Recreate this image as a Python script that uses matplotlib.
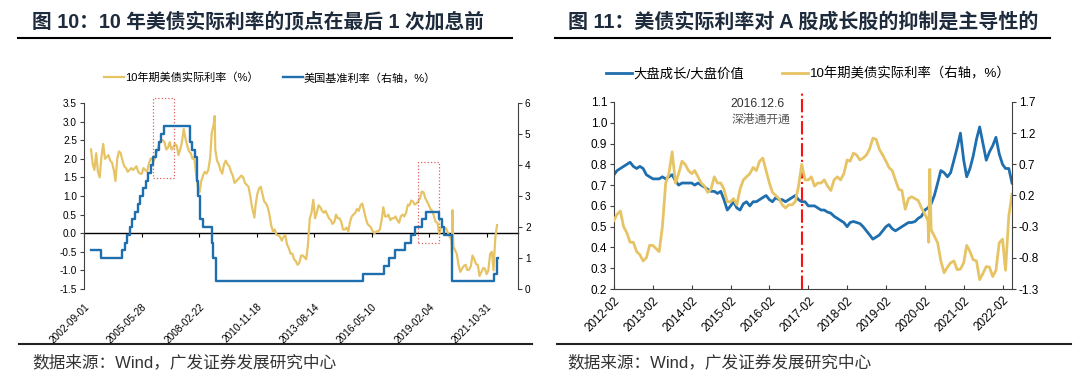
import numpy as np
import pandas as pd
import matplotlib
matplotlib.use('Agg')
import matplotlib.pyplot as plt
import matplotlib.dates as mdates
from matplotlib.patches import Rectangle
from matplotlib.lines import Line2D

plt.rcParams['font.family'] = ['Liberation Sans', 'Noto Sans CJK SC', 'DejaVu Sans']
plt.rcParams['axes.unicode_minus'] = False

YELLOW = '#E6C466'
BLUE = '#1F6EAD'
AXC = '#404040'

# 10年期美债实际利率, monthly 2003-01 .. 2022-05
real_rate = [
    2.25, 1.85, 1.70, 2.15, 1.65, 1.50, 2.05, 2.40, 2.00, 2.05, 2.10, 1.95,
    1.90, 1.70, 1.40, 2.00, 2.20, 2.15, 1.95, 1.80, 1.75, 1.65, 1.70, 1.75,
    1.70, 1.75, 1.80, 1.65, 1.60, 1.60, 1.75, 1.70, 1.65, 1.85, 2.00, 2.00,
    1.95, 2.10, 2.25, 2.40, 2.50, 2.50, 2.45, 2.25, 2.30, 2.45, 2.25, 2.30,
    2.40, 2.35, 2.10, 2.25, 2.45, 2.80, 2.55, 2.35, 2.20, 2.15, 2.00, 2.05,
    1.60, 1.25, 1.10, 1.40, 1.55, 1.65, 1.60, 1.70, 2.00, 2.70, 2.90, 2.25,
    1.95, 1.85, 1.70, 1.60, 1.85, 1.95, 1.85, 1.80, 1.65, 1.55, 1.35, 1.40,
    1.45, 1.50, 1.55, 1.50, 1.35, 1.30, 1.25, 1.00, 0.70, 0.50, 0.75, 1.05,
    1.20, 1.25, 1.05, 0.85, 0.80, 0.70, 0.50, 0.20, 0.05, 0.10, -0.05, -0.05,
    -0.10, -0.20, -0.10, -0.05, -0.30, -0.40, -0.55, -0.55, -0.70, -0.75, -0.85, -0.80,
    -0.60, -0.60, -0.65, -0.70, -0.30, 0.40, 0.55, 0.90, 0.40, 0.55, 0.75, 0.70,
    0.60, 0.55, 0.60, 0.50, 0.40, 0.35, 0.25, 0.30, 0.50, 0.40, 0.40, 0.30,
    0.10, 0.10, 0.15, 0.05, 0.30, 0.45, 0.50, 0.55, 0.65, 0.60, 0.75, 0.80,
    0.60, 0.40, 0.25, 0.20, 0.15, 0.05, 0.00, 0.05, 0.05, 0.10, 0.35, 0.70,
    0.45, 0.45, 0.50, 0.35, 0.40, 0.40, 0.45, 0.35, 0.28, 0.45, 0.50, 0.45,
    0.55, 0.77, 0.75, 0.88, 0.85, 0.77, 0.80, 0.85, 0.95, 1.12, 1.10, 0.94,
    0.85, 0.75, 0.65, 0.60, 0.45, 0.30, 0.28, -0.02, 0.15, 0.18, 0.15, 0.12,
    0.00, -0.10, -0.20, -0.35, -0.45, -0.56, -0.85, -1.04, -0.95, -0.88, -0.85, -0.99,
    -0.98, -0.88, -0.60, -0.70, -0.83, -0.85, -1.15, -1.05, -0.94, -0.95, -1.10, -1.00,
    -0.56, -0.50, -1.00, -0.13, 0.22,
]
# short daily spikes the monthly points miss
spike_dates = ['2008-11-20', '2010-10-12', '2020-03-09', '2020-03-19']
spike_values = [3.15, 0.42, -0.55, 0.62]

# 美国基准利率 (upper bound), change dates
fed_dates = ['2003-01-02', '2003-06-25', '2004-06-30', '2004-08-10', '2004-09-21',
             '2004-11-10', '2004-12-14', '2005-02-02', '2005-03-22', '2005-05-03',
             '2005-06-30', '2005-08-09', '2005-09-20', '2005-11-01', '2005-12-13',
             '2006-01-31', '2006-03-28', '2006-05-10', '2006-06-29', '2007-09-18',
             '2007-10-31', '2007-12-11', '2008-01-22', '2008-01-30', '2008-03-18',
             '2008-04-30', '2008-10-08', '2008-10-29', '2008-12-16', '2015-12-16',
             '2016-12-14', '2017-03-15', '2017-06-14', '2017-12-13', '2018-03-21',
             '2018-06-13', '2018-09-26', '2018-12-19', '2019-08-01', '2019-09-18',
             '2019-10-30', '2020-03-03', '2020-03-16', '2022-03-16', '2022-05-04',
             '2022-05-15']
fed_rates = [1.25, 1.00, 1.25, 1.50, 1.75, 2.00, 2.25, 2.50, 2.75, 3.00,
             3.25, 3.50, 3.75, 4.00, 4.25, 4.50, 4.75, 5.00, 5.25, 4.75,
             4.50, 4.25, 3.50, 3.00, 2.25, 2.00, 1.50, 1.00, 0.25, 0.50,
             0.75, 1.00, 1.25, 1.50, 1.75, 2.00, 2.25, 2.50, 2.25, 2.00,
             1.75, 1.25, 0.25, 0.50, 1.00, 1.00]

# 大盘成长/大盘价值, monthly 2012-02 .. 2022-05
growth_value = [
    0.75, 0.77, 0.78, 0.79, 0.80, 0.81, 0.79, 0.78, 0.79, 0.78, 0.75,
    0.74, 0.73, 0.73, 0.73, 0.74, 0.73, 0.74, 0.75, 0.72, 0.70, 0.71, 0.71,
    0.71, 0.71, 0.70, 0.71, 0.70, 0.69, 0.68, 0.67, 0.67, 0.66, 0.67, 0.63,
    0.58, 0.60, 0.62, 0.59, 0.58, 0.61, 0.62, 0.60, 0.62, 0.62, 0.63, 0.64,
    0.65, 0.63, 0.62, 0.64, 0.63, 0.63, 0.62, 0.63, 0.64, 0.65, 0.63, 0.62,
    0.62, 0.60, 0.60, 0.60, 0.59, 0.58, 0.58, 0.57, 0.565, 0.55, 0.54, 0.53,
    0.52, 0.50, 0.52, 0.525, 0.52, 0.515, 0.50, 0.48, 0.46, 0.44, 0.45, 0.46,
    0.48, 0.50, 0.51, 0.49, 0.48, 0.49, 0.50, 0.51, 0.52, 0.52, 0.525, 0.54,
    0.55, 0.58, 0.59, 0.61, 0.65, 0.71, 0.77, 0.76, 0.74, 0.76, 0.82, 0.88,
    0.95, 0.82, 0.74, 0.78, 0.84, 0.92, 0.98, 0.90, 0.82, 0.86, 0.89, 0.93,
    0.85, 0.80, 0.78, 0.78, 0.71,
]

left_ticks = ['2002-09-01', '2005-05-28', '2008-02-22', '2010-11-18',
              '2013-08-14', '2016-05-10', '2019-02-04', '2021-10-31']
right_ticks = ['2012-02', '2013-02', '2014-02', '2015-02', '2016-02', '2017-02',
               '2018-02', '2019-02', '2020-02', '2021-02', '2022-02']

# dotted highlight boxes on 图10: (start, end, low, high)
boxes = [('2005-12-14', '2006-12-14', 1.48, 3.63),
         ('2018-07-29', '2019-07-29', -0.27, 1.91)]
event_date = '2016-12-06'

rr = pd.Series(real_rate, index=pd.date_range('2003-01-01', periods=len(real_rate), freq='MS'))
rr = pd.concat([rr, pd.Series(spike_values, index=pd.to_datetime(spike_dates))]).sort_index()
gv = pd.Series(growth_value, index=pd.date_range('2012-02-01', periods=len(growth_value), freq='MS'))
rr_right = rr['2012-02-01':'2022-05-01']

fig = plt.figure(figsize=(10.8, 3.82), dpi=100)

TITLE_C = '#1E2B3C'
fig.text(32 / 1080, 1 - 22 / 382, '图 10：10 年美债实际利率的顶点在最后 1 次加息前',
         fontsize=14.2, fontweight='bold', color=TITLE_C, va='center', ha='left')
fig.text(568 / 1080, 1 - 22 / 382, '图 11：美债实际利率对 A 股成长股的抑制是主导性的',
         fontsize=14.4, fontweight='bold', color=TITLE_C, va='center', ha='left')
for x0, x1 in [(18, 512), (555, 1050)]:
    fig.add_artist(Line2D([x0 / 1080, x1 / 1080], [1 - 38 / 382] * 2, color='black', lw=1.5))
for x0, x1 in [(19, 532), (557, 1071)]:
    fig.add_artist(Line2D([x0 / 1080, x1 / 1080], [1 - 344 / 382] * 2, color='#222222', lw=1.5))
for x0 in [32, 567]:
    fig.text(x0 / 1080, 1 - 362 / 382, '数据来源：Wind，广发证券发展研究中心',
             fontsize=12, color='#333333', va='center', ha='left')

# ---------- 图10 ----------
ax1 = fig.add_axes([84 / 1080, 1 - 289 / 382, (518 - 84) / 1080, (289 - 103) / 382])
ax1.plot(rr.index, rr.values, color=YELLOW, lw=1.6, label='10年期美债实际利率（%）')
ax1.set_ylim(-1.5, 3.5)
ax1.set_yticks(np.arange(-1.5, 3.51, 0.5))
ax1.yaxis.set_major_formatter(plt.FormatStrFormatter('%.1f'))
ax1.set_xlim(pd.Timestamp('2002-09-01'), pd.Timestamp('2023-05-01'))
tick_pos = pd.to_datetime(left_ticks)
ax1.set_xticks(tick_pos)
ax1.set_xticklabels(left_ticks, rotation=45, ha='right', rotation_mode='anchor')
ax1.tick_params(axis='x', length=0, pad=9, labelsize=7.2)
ax1.tick_params(axis='y', length=3, width=0.8, labelsize=7.2, color=AXC, pad=2)
for s in ['top', 'right', 'bottom']:
    ax1.spines[s].set_visible(False)
ax1.spines['left'].set_color(AXC)

zero_axis = ax1.secondary_xaxis((0 + 1.5) / 5.0)
zero_axis.set_xticks(tick_pos)
zero_axis.tick_params(axis='x', labelbottom=False, length=3, width=0.8, color='black')
zero_axis.spines['bottom'].set_color('black')
zero_axis.spines['bottom'].set_linewidth(1.0)

for x0, x1, lo, hi in boxes:
    d0 = mdates.date2num(pd.Timestamp(x0))
    d1 = mdates.date2num(pd.Timestamp(x1))
    ax1.add_patch(Rectangle((d0, lo), d1 - d0, hi - lo, fill=False, ec='#E06060',
                            ls=':', lw=0.9, clip_on=False, zorder=5))

ax1r = ax1.twinx()
ax1r.plot(pd.to_datetime(fed_dates), fed_rates, color=BLUE, lw=1.7,
          drawstyle='steps-post', label='美国基准利率（右轴，%）')
ax1r.set_ylim(0, 6)
ax1r.set_yticks(range(0, 7))
ax1r.tick_params(axis='y', length=3, width=0.8, labelsize=7.2, color=AXC, pad=2)
for s in ['top', 'left', 'bottom']:
    ax1r.spines[s].set_visible(False)
ax1r.spines['right'].set_color(AXC)

h1 = ax1.get_legend_handles_labels()[0] + ax1r.get_legend_handles_labels()[0]
fig.legend(h1, [h.get_label() for h in h1], loc='center', bbox_to_anchor=(270 / 1080, 1 - 78 / 382),
           ncol=2, frameon=False, fontsize=8, handlelength=1.8, handletextpad=0.1,
           columnspacing=2.2)

# ---------- 图11 ----------
ax2 = fig.add_axes([614 / 1080, 1 - 289 / 382, (1012 - 614) / 1080, (289 - 102) / 382])
ax2.plot(gv.index, gv.values, color=BLUE, lw=2.0, label='大盘成长/大盘价值')
ax2.set_ylim(0.2, 1.1)
ax2.set_yticks(np.arange(0.2, 1.101, 0.1))
ax2.yaxis.set_major_formatter(plt.FormatStrFormatter('%.1f'))
ax2.set_xlim(pd.Timestamp('2012-02-01'), pd.Timestamp('2022-05-01'))
ax2.set_xticks(pd.to_datetime(right_ticks))
ax2.set_xticklabels(right_ticks, rotation=45, ha='right', rotation_mode='anchor')
ax2.tick_params(axis='x', direction='in', length=3, width=0.8, labelsize=8.5, pad=4, color=AXC)
ax2.tick_params(axis='y', length=3, width=0.8, labelsize=8.5, color=AXC, pad=2)
ax2.spines['top'].set_visible(False)
ax2.spines['right'].set_visible(False)
for s in ['left', 'bottom']:
    ax2.spines[s].set_color(AXC)

ev = mdates.date2num(pd.Timestamp(event_date))
ax2.axvline(ev, ymin=0, ymax=(289 - 93) / 187, color='#FF1010', ls='-.', lw=1.5, clip_on=False)
ax2.annotate('2016.12.6', xy=(ev, (289 - 104) / 187), xycoords=('data', 'axes fraction'),
             xytext=(-18, 0), textcoords='offset pixels', ha='right', va='center',
             fontsize=8.7, color='#333333')
ax2.annotate('深港通开通', xy=(ev, (289 - 120) / 187), xycoords=('data', 'axes fraction'),
             xytext=(-12, 0), textcoords='offset pixels', ha='right', va='center',
             fontsize=8.5, color='#555555')

ax2r = ax2.twinx()
ax2r.plot(rr_right.index, rr_right.values, color=YELLOW, lw=2.0, label='10年期美债实际利率（右轴，%）')
ax2r.set_ylim(-1.3, 1.7)
ax2r.set_yticks(np.arange(-1.3, 1.71, 0.5))
ax2r.yaxis.set_major_formatter(plt.FormatStrFormatter('%.1f'))
ax2r.tick_params(axis='y', length=3, width=0.8, labelsize=8.5, color=AXC, pad=2)
for s in ['top', 'left', 'bottom']:
    ax2r.spines[s].set_visible(False)
ax2r.spines['right'].set_color(AXC)

h2 = ax2.get_legend_handles_labels()[0] + ax2r.get_legend_handles_labels()[0]
fig.legend(h2, [h.get_label() for h in h2], loc='center', bbox_to_anchor=(808 / 1080, 1 - 74 / 382),
           ncol=2, frameon=False, fontsize=9.6, handlelength=2.0, handletextpad=0.1,
           columnspacing=2.8)

fig.savefig('out.png', dpi=100)
